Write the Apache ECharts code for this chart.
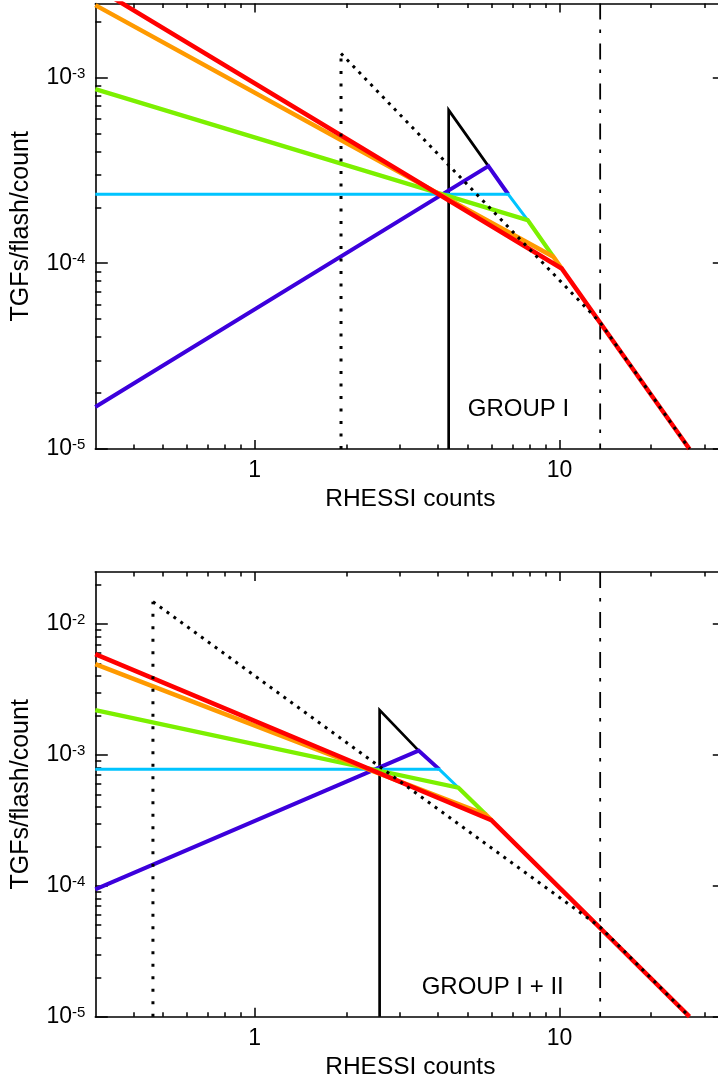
<!DOCTYPE html>
<html><head><meta charset="utf-8">
<script src="https://cdn.jsdelivr.net/npm/echarts@6/dist/echarts.min.js"></script>
<style>html,body{margin:0;padding:0;background:#fff}#c{width:718px;height:1085px}</style>
</head><body><div id="c"></div>
<script>
// ---- tick values ----
const xMajor = [1, 10];
const xMinor = [0.4, 0.5, 0.6, 0.7, 0.8, 0.9, 2, 3, 4, 5, 6, 7, 8, 9, 20, 30];
const y1Major = [1e-5, 1e-4, 1e-3];
const y1Minor = [2e-5, 3e-5, 4e-5, 5e-5, 6e-5, 7e-5, 8e-5, 9e-5, 2e-4, 3e-4, 4e-4, 5e-4, 6e-4, 7e-4, 8e-4, 9e-4, 2e-3];
const y2Major = [1e-5, 1e-4, 1e-3, 1e-2];
const y2Minor = [2e-5, 3e-5, 4e-5, 5e-5, 6e-5, 7e-5, 8e-5, 9e-5, 2e-4, 3e-4, 4e-4, 5e-4, 6e-4, 7e-4, 8e-4, 9e-4, 2e-3, 3e-3, 4e-3, 5e-3, 6e-3, 7e-3, 8e-3, 9e-3, 2e-2];

// ---- panel 1 (GROUP I) ----
const g1Black  = [[4.33, 1e-5], [4.33, 6.67e-4], [5.845, 3.33e-4]];
const g1Purple = [[0.3, 1.683e-5], [5.845, 3.33e-4], [6.79, 2.35e-4]];
const g1Cyan   = [[0.3, 2.35e-4], [6.79, 2.35e-4], [7.865, 1.705e-4]];
const g1Green  = [[0.3, 8.65e-4], [7.865, 1.705e-4], [9.55, 1.083e-4]];
const g1Orange = [[0.3, 2.45e-3], [9.55, 1.083e-4], [10.17, 9.37e-5]];
const g1Red    = [[0.3, 3.06e-3], [10.17, 9.37e-5], [26.7, 1e-5]];
const g1DotV   = [[1.92, 1e-5], [1.92, 1.346e-3]];
const g1DotD   = [[1.92, 1.346e-3], [13.6, 4.8e-5], [26.7, 1e-5]];
const g1DashDot = [[13.6, 2.5e-3], [13.6, 1e-5]];

// ---- panel 2 (GROUP I + II) ----
const g2Black  = [[2.57, 1e-5], [2.57, 2.2e-3], [3.45, 1.08e-3]];
const g2Purple = [[0.3, 9.4e-5], [3.45, 1.08e-3], [4.035, 7.76e-4]];
const g2Cyan   = [[0.3, 7.76e-4], [4.035, 7.76e-4], [4.66, 5.62e-4]];
const g2Green  = [[0.3, 2.2e-3], [4.66, 5.62e-4], [5.735, 3.5e-4]];
const g2Orange = [[0.3, 4.95e-3], [5.735, 3.5e-4], [5.98, 3.18e-4]];
const g2Red    = [[0.3, 5.9e-3], [5.98, 3.18e-4], [26.7, 1e-5]];
const g2DotV   = [[0.4637, 1e-5], [0.4637, 1.48e-2]];
const g2DotD   = [[0.4637, 1.48e-2], [13.6, 4.84e-5], [26.7, 1e-5]];
const g2DashDot = [[13.6, 2.5e-2], [13.6, 1e-5]];

const FONT = '"Liberation Sans", Arial, Helvetica, sans-serif';
const C = {black:'#000000', purple:'#3c00dc', cyan:'#00c4ff', green:'#7cf000', orange:'#ff9a00', red:'#ff0000'};

function xAxesFor(g) {
  const base = {type:'log', logBase:10, gridIndex:g, min:0.3, max:35, splitLine:{show:false}, minorTick:{show:false}, minorSplitLine:{show:false}};
  const line = {show:true, lineStyle:{color:'#000', width:1.6}};
  return [
    Object.assign({}, base, {position:'bottom', axisLine:line,
      axisTick:{show:true, inside:true, length:9, customValues:xMajor, lineStyle:{color:'#000', width:1.5}},
      axisLabel:{show:true, customValues:xMajor, formatter:(v)=>String(Math.round(v)), fontSize:23, color:'#000', fontFamily:FONT, margin:10},
      name:'RHESSI counts', nameLocation:'middle', nameGap:38, nameTextStyle:{fontSize:24.5, color:'#000', fontFamily:FONT}}),
    Object.assign({}, base, {position:'bottom', axisLine:{show:false},
      axisTick:{show:true, inside:true, length:4.5, customValues:xMinor, lineStyle:{color:'#000', width:1.5}},
      axisLabel:{show:false}}),
    Object.assign({}, base, {position:'top', axisLine:line,
      axisTick:{show:true, inside:true, length:9, customValues:xMajor, lineStyle:{color:'#000', width:1.5}},
      axisLabel:{show:false}}),
    Object.assign({}, base, {position:'top', axisLine:{show:false},
      axisTick:{show:true, inside:true, length:4.5, customValues:xMinor, lineStyle:{color:'#000', width:1.5}},
      axisLabel:{show:false}})
  ];
}
function yAxesFor(g, ymax, major, minor) {
  const base = {type:'log', logBase:10, gridIndex:g, min:1e-5, max:ymax, splitLine:{show:false}, minorTick:{show:false}, minorSplitLine:{show:false}};
  const line = {show:true, lineStyle:{color:'#000', width:1.6}};
  return [
    Object.assign({}, base, {position:'left', axisLine:line,
      axisTick:{show:true, inside:true, length:12.5, customValues:major, lineStyle:{color:'#000', width:1.5}},
      axisLabel:{show:true, customValues:major, margin:10, fontSize:23, color:'#000', fontFamily:FONT,
        formatter:(v)=>'{b|10}{s|' + Math.round(Math.log10(v)) + '}',
        rich:{b:{fontSize:23, color:'#000', fontFamily:FONT}, s:{fontSize:15, color:'#000', fontFamily:FONT, verticalAlign:'top'}}},
      name:'TGFs/flash/count', nameLocation:'middle', nameGap:62, nameTextStyle:{fontSize:25, color:'#000', fontFamily:FONT}}),
    Object.assign({}, base, {position:'left', axisLine:{show:false},
      axisTick:{show:true, inside:true, length:6, customValues:minor, lineStyle:{color:'#000', width:1.5}},
      axisLabel:{show:false}}),
    Object.assign({}, base, {position:'right', axisLine:line,
      axisTick:{show:true, inside:true, length:12.5, customValues:major, lineStyle:{color:'#000', width:1.5}},
      axisLabel:{show:false}}),
    Object.assign({}, base, {position:'right', axisLine:{show:false},
      axisTick:{show:true, inside:true, length:6, customValues:minor, lineStyle:{color:'#000', width:1.5}},
      axisLabel:{show:false}})
  ];
}

function ser(data, g, color, width, type, z) {
  return {type:'line', data:data, xAxisIndex:4*g, yAxisIndex:4*g, showSymbol:false, symbol:'none',
    silent:true, animation:false, z:z, clip:true,
    lineStyle:{color:color, width:width, type:type || 'solid', join:'miter', cap:'butt'}};
}
const dashDot = [16, 10, 3.5, 10.5];
const series = [];
[[0, g1DashDot, g1Black, g1Purple, g1Cyan, g1Green, g1Orange, g1Red, g1DotV, g1DotD],
 [1, g2DashDot, g2Black, g2Purple, g2Cyan, g2Green, g2Orange, g2Red, g2DotV, g2DotD]].forEach(p => {
  const g = p[0];
  series.push(ser(p[1], g, '#000', 1.8, dashDot, 2));
  series.push(ser(p[2], g, C.black, 2.7, 'solid', 3));
  series.push(ser(p[3], g, C.purple, 4, 'solid', 4));
  series.push(ser(p[4], g, C.cyan, 3, 'solid', 5));
  series.push(ser(p[5], g, C.green, 4.2, 'solid', 6));
  series.push(ser(p[6], g, C.orange, 4.5, 'solid', 7));
  series.push(ser(p[7], g, C.red, 4.5, 'solid', 8));
  series.push(ser(p[8], g, '#000', 3, [3, 9.5], 9));
  series.push(ser(p[9], g, '#000', 3, [3, 5.5], 9));
});

const chart = echarts.init(document.getElementById('c'), null, {renderer:'canvas'});
chart.setOption({
  animation:false,
  backgroundColor:'#fff',
  grid:[
    {left:95.3, top:3.5, width:630, height:445.5, outerBoundsMode:'none', containLabel:false},
    {left:95.3, top:572, width:630, height:444.7, outerBoundsMode:'none', containLabel:false}
  ],
  xAxis: xAxesFor(0).concat(xAxesFor(1)),
  yAxis: yAxesFor(0, 2.5e-3, y1Major, y1Minor).concat(yAxesFor(1, 2.5e-2, y2Major, y2Minor)),
  series: series,
  graphic:[
    {type:'text', x:518.5, y:409, style:{text:'GROUP I', fontSize:24, fontFamily:FONT, fill:'#000', align:'center', verticalAlign:'middle'}},
    {type:'text', x:492.7, y:987, style:{text:'GROUP I + II', fontSize:24, fontFamily:FONT, fill:'#000', align:'center', verticalAlign:'middle'}}
  ]
});
</script></body></html>
